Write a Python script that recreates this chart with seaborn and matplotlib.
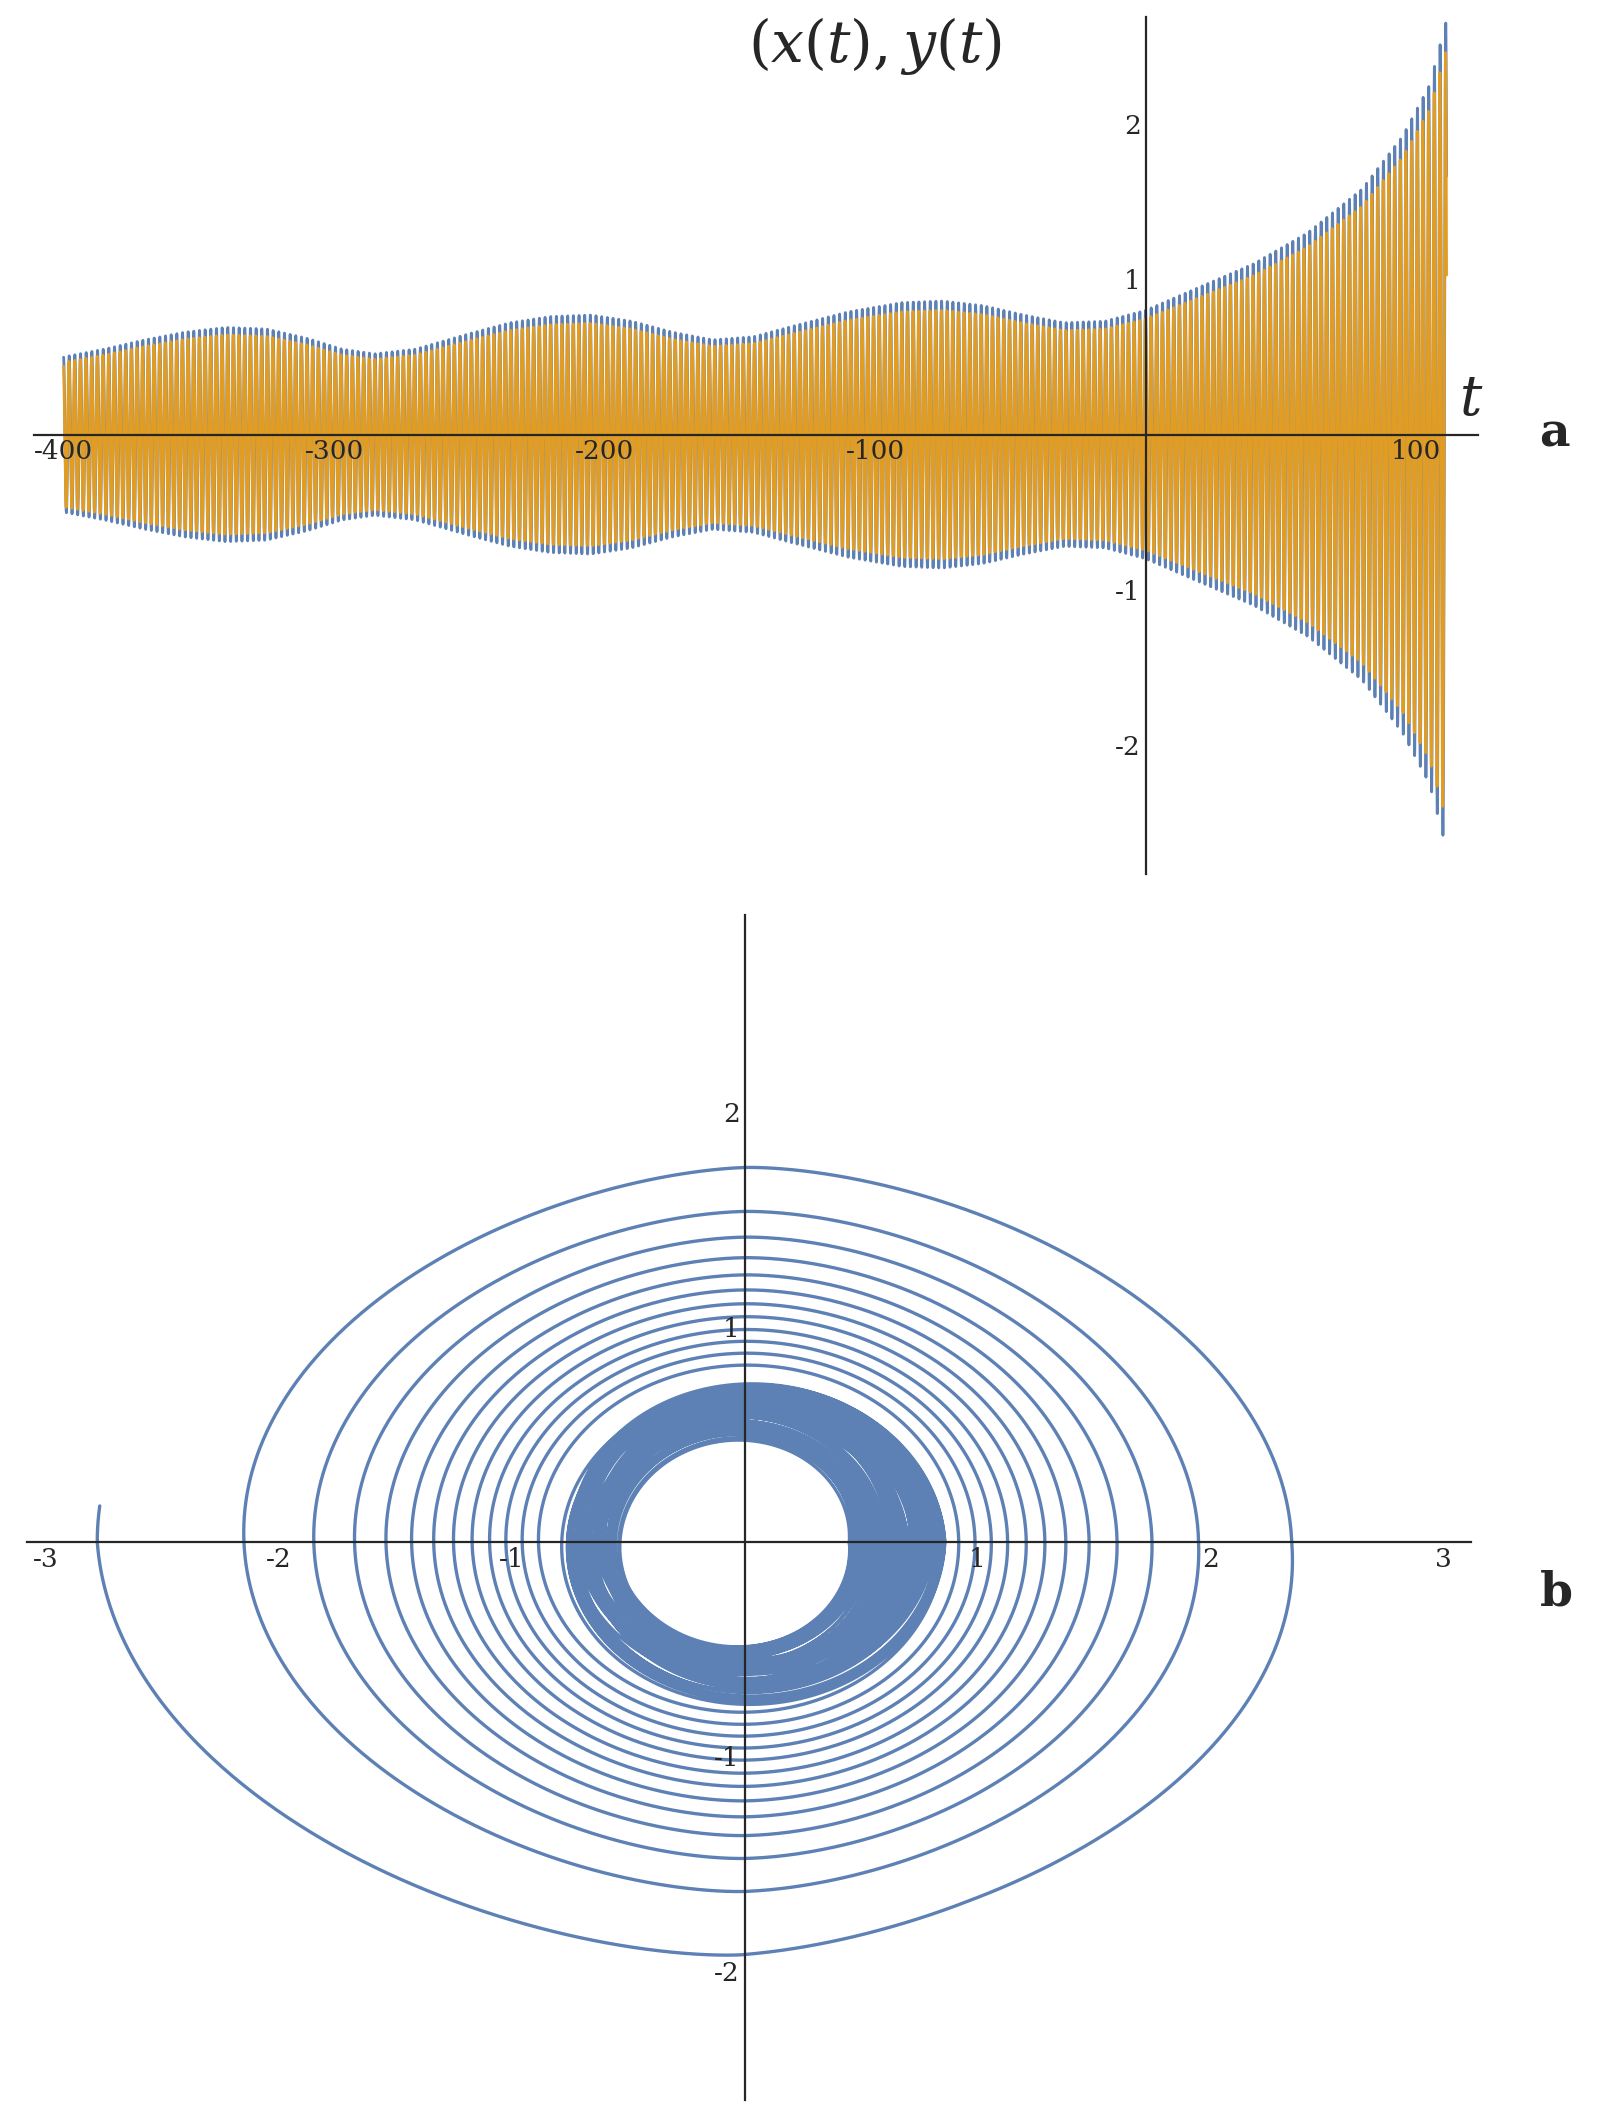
import numpy as np
import matplotlib
matplotlib.use("Agg")
import matplotlib.pyplot as plt
import seaborn as sns

sns.set_style("white")
plt.rcParams['font.family'] = ['DejaVu Serif']
plt.rcParams['mathtext.fontset'] = 'dejavuserif'

# ---- Panel a data: envelope of the oscillation (t, amplitude)
env_t = [-400, -385, -370, -355, -340, -325, -310, -297, -285, -270, -250, -235, -220, -205,
         -190, -175, -160, -145, -130, -110, -90, -75, -60, -45, -30, -15, 0, 20, 40, 60, 80, 95, 105, 111]
env_a = [0.50, 0.55, 0.61, 0.66, 0.69, 0.68, 0.62, 0.55, 0.52, 0.55, 0.65, 0.72, 0.76, 0.77,
         0.73, 0.66, 0.61, 0.63, 0.70, 0.79, 0.85, 0.86, 0.83, 0.77, 0.72, 0.73, 0.80, 0.95, 1.10, 1.30, 1.58, 1.92, 2.25, 2.65]
t_start, t_end = -400, 111.3
omega = 3.0          # about 47 peaks per 100 time units
phase_y = 0.25

# ---- Panel b data: radius of the orbit at successive right-hand crossings
dense_turn_r = [0.45, 0.70, 0.52, 0.85, 0.61, 0.47, 0.78, 0.56, 0.83, 0.66, 0.49, 0.74,
                0.58, 0.81, 0.46, 0.68, 0.54, 0.86, 0.63, 0.50, 0.76, 0.59, 0.84, 0.65,
                0.48, 0.72, 0.55, 0.80, 0.62, 0.45, 0.77, 0.57, 0.85, 0.67, 0.51, 0.73,
                0.60, 0.82, 0.47, 0.69, 0.53, 0.79, 0.64, 0.49, 0.75, 0.58, 0.86, 0.71,
                0.46, 0.66, 0.55, 0.83, 0.61, 0.50, 0.78, 0.56, 0.84, 0.68, 0.48, 0.74,
                0.59, 0.81, 0.52, 0.70, 0.63, 0.85]
outer_turn_r = [0.92, 0.99, 1.06, 1.13, 1.21, 1.29, 1.38, 1.48, 1.60, 1.75, 1.95, 2.35]
tail_end_r = 2.78

x_ticks_a = [-400, -300, -200, -100, 100]
y_ticks_a = [-2, -1, 1, 2]
x_ticks_b = [-3, -2, -1, 1, 2, 3]
y_ticks_b = [-2, -1, 1, 2]

blue = "#5E81B5"
orange = "#E19C24"

t = np.linspace(t_start, t_end, 120000)
amp = np.interp(t, env_t, env_a)
xs = amp * np.cos(omega * t)
ys = 0.93 * amp * np.cos(omega * t + phase_y)

turn_r = dense_turn_r + outer_turn_r
n_turns = len(turn_r)
turn_theta = -2 * np.pi * np.arange(n_turns)
turn_theta = np.append(turn_theta, turn_theta[-1] - np.pi)
turn_vals = np.append(np.array(turn_r), tail_end_r)
th = np.linspace(0, turn_theta[-1] - 0.08, 60000)
r = np.interp(-th, -turn_theta, turn_vals)
ky = np.interp(r, [0.5, 1.0, 2.5], [0.96, 0.9, 0.75])
px = np.interp(r, [0.9, 2.4], [1.0, 1.2])
c, s = np.cos(th), np.sin(th)
bx = r * np.sign(c) * np.abs(c) ** px
by = ky * r * s

fig = plt.figure(figsize=(16.12, 21.06), dpi=100)

def style(ax, xl, yl, xt, yt, xminor, yminor):
    ax.set_xlim(*xl); ax.set_ylim(*yl)
    for sp in ["top", "right"]:
        ax.spines[sp].set_visible(False)
    ax.spines["left"].set_position(("data", 0))
    ax.spines["bottom"].set_position(("data", 0))
    for sp in ["left", "bottom"]:
        ax.spines[sp].set_linewidth(1.6)
        ax.spines[sp].set_zorder(5)
    ax.xaxis.set_zorder(6); ax.yaxis.set_zorder(6)
    ax.set_xticks(xt); ax.set_yticks(yt)
    ax.set_xticks(xminor, minor=True); ax.set_yticks(yminor, minor=True)
    ax.tick_params(axis="both", which="major", length=10, width=1.4, direction="in", labelsize=19)
    ax.tick_params(axis="both", which="minor", length=5, width=1.0, direction="in")
    fmt = matplotlib.ticker.FuncFormatter(lambda v, p: f"{v:g}")
    ax.xaxis.set_major_formatter(fmt)
    ax.yaxis.set_major_formatter(fmt)

ax1 = fig.add_axes([0.021, 0.585, 0.896, 0.407])
sns.lineplot(x=t, y=xs, ax=ax1, color=blue, lw=2.0, sort=False, estimator=None, zorder=1)
sns.lineplot(x=t, y=ys, ax=ax1, color=orange, lw=2.0, sort=False, estimator=None, zorder=1)
style(ax1, (-411, 123), (-2.83, 2.69), x_ticks_a, y_ticks_a,
      np.arange(-400, 121, 20), np.arange(-2.6, 2.7, 0.2))
ax1.text(-147, 2.3, r"$(x(t),y(t)$", fontsize=42, ha="left", va="bottom")
ax1.text(116, 0.05, r"$t$", fontsize=40, ha="left", va="bottom")
fig.text(0.955, 0.794, "a", fontsize=34, fontweight="bold", ha="left", va="center")

ax2 = fig.add_axes([0.017, 0.003, 0.8955, 0.5625])
sns.lineplot(x=bx, y=by, ax=ax2, color=blue, lw=2.4, sort=False, estimator=None, zorder=1)
style(ax2, (-3.08, 3.12), (-2.6, 2.92), x_ticks_b, y_ticks_b,
      np.arange(-3, 3.1, 0.2), np.arange(-2.6, 2.95, 0.2))
fig.text(0.955, 0.244, "b", fontsize=34, fontweight="bold", ha="left", va="center")

fig.savefig("out.png", dpi=100)
